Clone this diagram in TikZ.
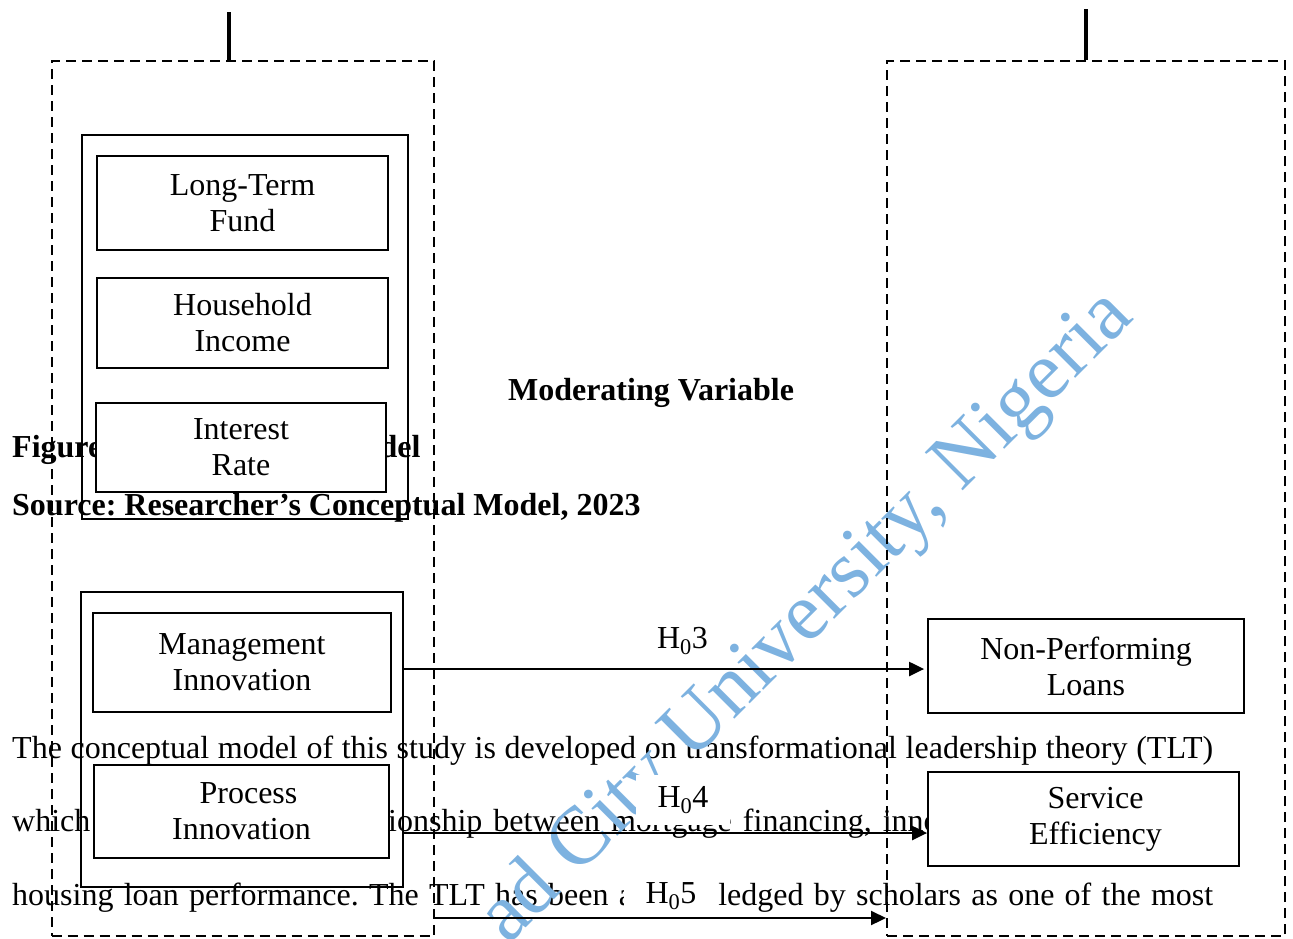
\documentclass[tikz,border=0pt]{standalone}
\usepackage{fontspec}
\setmainfont{Liberation Serif}
\usetikzlibrary{arrows.meta}
\definecolor{wmblue}{RGB}{125,178,224}
\newcommand{\bodysize}{\fontsize{32}{36}\selectfont}
\frenchspacing
\begin{document}
\begin{tikzpicture}[x=1pt,y=-1pt,
  txt/.style={inner sep=0pt, anchor=base west, font=\bodysize},
  boldtxt/.style={inner sep=0pt, font=\bodysize\bfseries},
  group/.style={draw, line width=2.4pt, inner sep=0pt},
  var/.style={draw, line width=1.8pt, fill=white, inner sep=0pt, align=center, font=\bodysize},
  dashframe/.style={draw, dash pattern=on 10pt off 6pt, line width=2pt, inner sep=0pt},
  bar/.style={line width=3.2pt},
  hyp/.style={fill=white, inner xsep=22pt, inner ysep=11pt, anchor=base, font=\bodysize},
  arr/.style={line width=2.2pt, -{Triangle[length=15pt,width=14pt]}},
]
\useasboundingbox (0,0) rectangle (1293,938);

% running text of the page
\node[boldtxt, anchor=base] (moder) at (651,400) {Moderating Variable};
\node[boldtxt, anchor=base west] (fig) at (12,457) {Figure 2.1: Conceptual Model};
\node[boldtxt, anchor=base west] (src) at (12,515) {Source: Researcher’s Conceptual Model, 2023};
\node[txt] (l1) at (12,758) {\makebox[1201pt][s]{The conceptual model of this study is developed on transformational leadership theory (TLT)}};
\node[txt] (l2) at (12,831) {\spaceskip=11pt which demonstrates the relationship between mortgage financing, innovation and};
\node[txt] (l3) at (12,905) {\makebox[1201pt][s]{housing loan performance. The TLT has been acknowledged by scholars as one of the most}};

% watermark over the running text, under the diagram
\begin{scope}
\clip (0,0) rectangle (1293,938);
\node[rotate=45, anchor=base west, inner sep=0pt, text=wmblue, font=\fontsize{82}{82}\selectfont] (wm) at (508,946) {ad City University, Nigeria};
\end{scope}

% dashed frames and their top stubs
\node[dashframe, minimum width=382.5pt, minimum height=875pt] (dashL) at (242.75,498.5) {};
\node[dashframe, minimum width=398pt, minimum height=875pt] (dashR) at (1086,498.5) {};
\coordinate (topL) at (229,12);
\coordinate (topR) at (1086,9);
\draw[bar] (topL) -- (topL |- dashL.north);
\draw[bar] (topR) -- (topR |- dashR.north);

% mortgage financing group
\node[group, minimum width=326pt, minimum height=384pt] (outerA) at (245,327) {};
\node[var, minimum width=291pt, minimum height=94pt] (ltf) at (242.5,203) {Long-Term\\Fund};
\node[var, minimum width=291pt, minimum height=90pt] (hhi) at (242.5,323) {Household\\Income};
\node[var, minimum width=290pt, minimum height=89pt] (ir) at (241,447.5) {Interest\\Rate};

% innovation group
\node[group, minimum width=322pt, minimum height=295pt] (outerB) at (242,739.5) {};
\node[var, minimum width=298pt, minimum height=99pt] (mi) at (242,662.5) {Management\\Innovation};
\node[var, minimum width=295pt, minimum height=93pt] (pi) at (241.5,811.5) {\hspace*{14pt}Process\\Innovation};

% loan performance variables
\node[var, minimum width=316pt, minimum height=94pt] (npl) at (1086,666) {Non-Performing\\Loans};
\node[var, minimum width=311pt, minimum height=94pt] (svc) at (1083.5,819) {\hspace*{24pt}Service\\\hspace*{24pt}Efficiency};

% hypotheses
\node[hyp] (h3lab) at (682.5,648) {H\textsubscript{0}3};
\node[hyp] (h4lab) at (683,807) {H\textsubscript{0}4};
\node[hyp] (h5lab) at (671,903) {H\textsubscript{0}5};
\coordinate (h3) at (0,669);
\coordinate (h4) at (0,833);
\coordinate (h5) at (0,918);
\draw[arr, shorten >=3pt] (outerB.east |- h3) -- (npl.west |- h3);
\draw[arr] (outerB.east |- h4) -- (svc.west |- h4);
\draw[arr] (dashL.east |- h5) -- (dashR.west |- h5);
\end{tikzpicture}
\end{document}
